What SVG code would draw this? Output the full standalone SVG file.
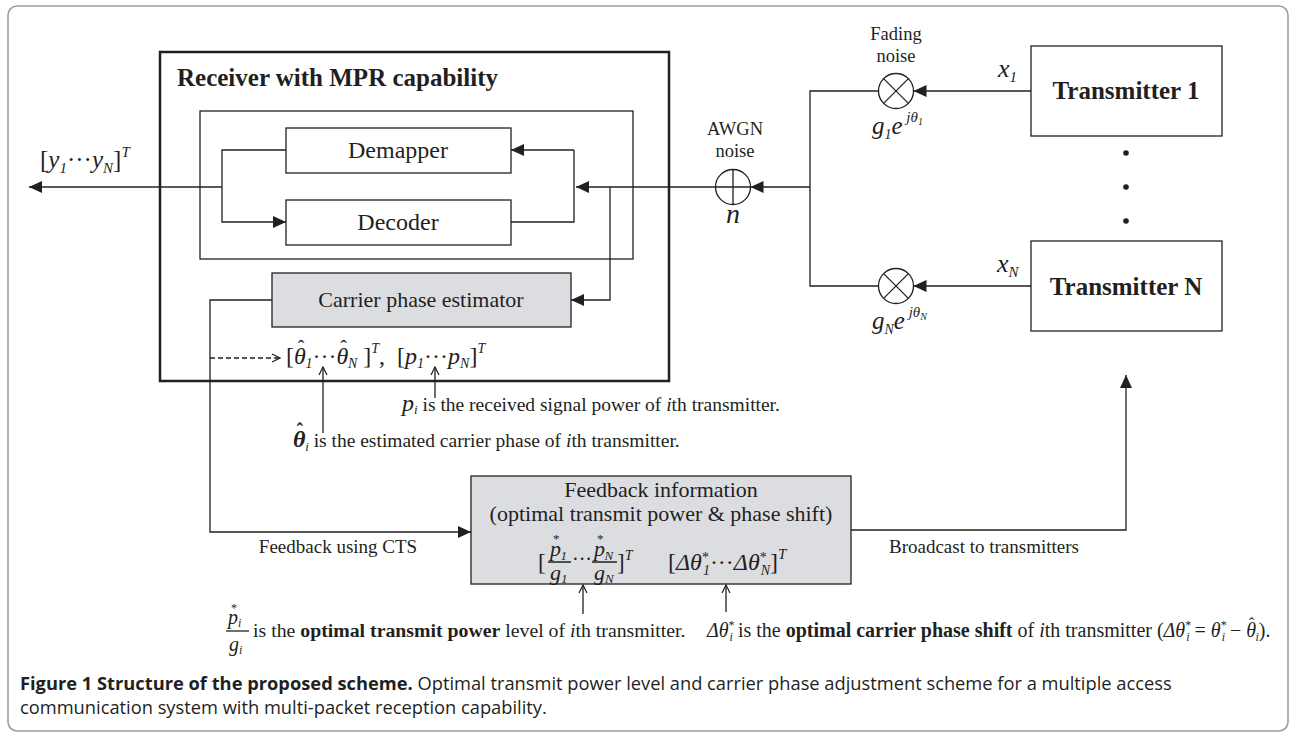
<svg xmlns="http://www.w3.org/2000/svg" width="1294" height="737" viewBox="0 0 1294 737">
<style>
.t{font-family:"Liberation Serif","Times New Roman",serif;fill:#231f20}
.i{font-style:italic}
.n{font-style:normal}
.b{font-weight:bold}
.ln{fill:none;stroke:#231f20;stroke-width:1.3}
.box{fill:#fff;stroke:#231f20;stroke-width:1.3}
.gbox{fill:#dcdde0;stroke:#231f20;stroke-width:1.3}
.cap{font-family:"Open Sans","Liberation Sans",sans-serif;fill:#231f20}
</style>
<defs>
<marker id="ah" markerUnits="userSpaceOnUse" markerWidth="14" markerHeight="12" refX="13" refY="6" orient="auto"><path d="M0,0 L13,6 L0,12 z" fill="#231f20"/></marker>
<marker id="oh" markerUnits="userSpaceOnUse" markerWidth="10" markerHeight="10" refX="9" refY="5" orient="auto"><path d="M1,1 L9,5 L1,9" fill="none" stroke="#231f20" stroke-width="1.2"/></marker>
</defs>
<rect x="8" y="6" width="1280" height="725" rx="9" fill="#fff" stroke="#9a9a9a" stroke-width="1.5"/>

<g id="receiver">
<rect x="160" y="52" width="509" height="329" fill="none" stroke="#231f20" stroke-width="2.5"/>
<text x="177" y="86" class="t b" font-size="25">Receiver with MPR capability</text>
</g>
<g id="inner-block"><rect x="200" y="111" width="433" height="148" class="box" fill="none"/></g>
<g id="demapper"><rect x="286" y="128" width="225" height="45" class="box"/><text x="398" y="158" class="t" font-size="24" text-anchor="middle">Demapper</text></g>
<g id="decoder"><rect x="286" y="200" width="225" height="45" class="box"/><text x="398" y="230" class="t" font-size="24" text-anchor="middle">Decoder</text></g>
<g id="estimator"><rect x="272" y="273" width="299" height="54" class="gbox"/><text x="421" y="307" class="t" font-size="22" text-anchor="middle">Carrier phase estimator</text></g>

<g id="awgn">
<circle cx="733" cy="187" r="17.5" class="box"/>
<path d="M733,169.5 V204.5 M715.5,187 H750.5" class="ln"/>
<text x="735" y="135" class="t" font-size="18.5" text-anchor="middle">AWGN</text>
<text x="735" y="157" class="t" font-size="18.5" text-anchor="middle">noise</text>
<text x="733" y="223" class="t i" font-size="28" text-anchor="middle">n</text>
</g>
<g id="fading1">
<circle cx="896" cy="91" r="17.5" class="box"/>
<path d="M883.6,78.6 L908.4,103.4 M908.4,78.6 L883.6,103.4" class="ln"/>
<text x="896" y="40" class="t" font-size="18.5" text-anchor="middle">Fading</text>
<text x="896" y="62" class="t" font-size="18.5" text-anchor="middle">noise</text>
<text x="872" y="134" class="t" font-size="25"><tspan class="i">g</tspan><tspan font-size="14" dy="5" class="i">1</tspan><tspan class="i" dy="-5">e</tspan><tspan font-size="15" dy="-12" class="i"> jθ</tspan><tspan font-size="10" dy="3" class="i">1</tspan></text>
</g>
<g id="fadingN">
<circle cx="896" cy="286" r="17.5" class="box"/>
<path d="M883.6,273.6 L908.4,298.4 M908.4,273.6 L883.6,298.4" class="ln"/>
<text x="872" y="329" class="t" font-size="25"><tspan class="i">g</tspan><tspan font-size="14" dy="5" class="i">N</tspan><tspan class="i" dy="-5">e</tspan><tspan font-size="15" dy="-12" class="i"> jθ</tspan><tspan font-size="10" dy="3" class="i">N</tspan></text>
</g>
<g id="tx1"><rect x="1031" y="46" width="191" height="90" class="box" stroke-width="2"/><text x="1126" y="99" class="t b" font-size="25" text-anchor="middle">Transmitter 1</text></g>
<g id="txN"><rect x="1031" y="241" width="191" height="90" class="box" stroke-width="2"/><text x="1126" y="295" class="t b" font-size="25" text-anchor="middle">Transmitter N</text></g>
<g id="tx-dots" fill="#231f20"><circle cx="1126" cy="153" r="2.8"/><circle cx="1126" cy="187" r="2.8"/><circle cx="1126" cy="221" r="2.8"/></g>
<g id="feedback">
<rect x="471" y="476" width="380" height="108" class="gbox"/>
<text x="661" y="497" class="t" font-size="22" text-anchor="middle">Feedback information</text>
<text x="661" y="521" class="t" font-size="22" text-anchor="middle">(optimal transmit power &amp; phase shift)</text>
<text x="538" y="570" class="t" font-size="23">[</text>
<text x="550" y="556" class="t i" font-size="22">p<tspan class="n" font-size="13" dx="-8" dy="-13">*</tspan><tspan font-size="13" dx="1" dy="17">1</tspan></text>
<path d="M548,562 H571 M592,562 H617" class="ln" stroke-width="1"/>
<text x="550" y="580" class="t i" font-size="22">g<tspan font-size="13" dy="3">1</tspan></text>
<text x="572" y="566" class="t" font-size="20">···</text>
<text x="594" y="556" class="t i" font-size="22">p<tspan class="n" font-size="13" dx="-8" dy="-13">*</tspan><tspan font-size="13" dx="1" dy="17">N</tspan></text>
<text x="594" y="580" class="t i" font-size="22">g<tspan font-size="13" dy="3">N</tspan></text>
<text x="617" y="570" class="t" font-size="23">]<tspan class="i" font-size="14" dy="-10">T</tspan></text>
<text x="668" y="570" class="t" font-size="24">[<tspan class="i">Δθ</tspan><tspan font-size="14" dy="-8">*</tspan><tspan font-size="14" dx="-6" dy="13" class="i">1</tspan><tspan dy="-5">···</tspan><tspan class="i">Δθ</tspan><tspan font-size="14" dy="-8">*</tspan><tspan font-size="14" dx="-6" dy="13" class="i">N</tspan><tspan dy="-5">]</tspan><tspan font-size="15" dy="-11" class="i">T</tspan></text>
</g>

<g id="connectors">
<path d="M222,187 H29" class="ln" marker-end="url(#ah)"/>
<path d="M286,150 H222 V222 H286" class="ln" marker-end="url(#ah)"/>
<path d="M574,150 H511" class="ln" marker-end="url(#ah)"/>
<path d="M511,222 H574 V150" class="ln"/>
<path d="M715.5,187 H576" class="ln" marker-end="url(#ah)"/>
<path d="M610,187 V300 H571" class="ln" marker-end="url(#ah)"/>
<path d="M272,300 H210 V532 H471" class="ln" marker-end="url(#ah)"/>
<path d="M210,358 H280" class="ln" stroke-dasharray="5,3" marker-end="url(#oh)"/>
<path d="M810,187 H750.5" class="ln" marker-end="url(#ah)"/>
<path d="M878.5,91 H810 V286 H878.5" class="ln"/>
<path d="M1031,91 H913.5" class="ln" marker-end="url(#ah)"/>
<path d="M1031,286 H913.5" class="ln" marker-end="url(#ah)"/>
<path d="M851,530 H1126 V375" class="ln" marker-end="url(#ah)"/>
<path d="M323,433 V367" class="ln" marker-end="url(#oh)"/>
<path d="M435,398 V367" class="ln" marker-end="url(#oh)"/>
<path d="M583,614 V585" class="ln" marker-end="url(#oh)"/>
<path d="M726,612 V585" class="ln" marker-end="url(#oh)"/>
</g>

<g id="labels">
<text x="40" y="168" class="t" font-size="25">[<tspan class="i">y</tspan><tspan font-size="15" dy="5" class="i">1</tspan><tspan dy="-5">···</tspan><tspan class="i">y</tspan><tspan font-size="15" dy="5" class="i">N</tspan><tspan dy="-5">]</tspan><tspan font-size="15" dy="-11" class="i">T</tspan></text>
<text x="998" y="77" class="t i" font-size="26">x<tspan font-size="15" dy="5">1</tspan></text>
<text x="997" y="272" class="t i" font-size="26">x<tspan font-size="15" dy="5">N</tspan></text>
<text x="286" y="364" class="t" font-size="24">[<tspan class="i">θ</tspan><tspan dx="-8" dy="-9" font-size="20">ˆ</tspan><tspan class="i" font-size="14" dx="1" dy="13">1</tspan><tspan dy="-4">···</tspan><tspan class="i">θ</tspan><tspan dx="-8" dy="-9" font-size="20">ˆ</tspan><tspan class="i" font-size="14" dx="1" dy="13">N</tspan><tspan dy="-4"> ]</tspan><tspan font-size="14" dy="-11" class="i">T</tspan><tspan dy="11">,</tspan><tspan dx="12">[</tspan><tspan class="i">p</tspan><tspan font-size="14" dy="4" class="i">1</tspan><tspan dy="-4">···</tspan><tspan class="i">p</tspan><tspan font-size="14" dy="4" class="i">N</tspan><tspan dy="-4">]</tspan><tspan font-size="14" dy="-11" class="i">T</tspan></text>
<text x="402" y="411" class="t" font-size="19.5"><tspan class="i" font-size="24">p</tspan><tspan class="i" font-size="13" dy="3">i</tspan><tspan dy="-3"> is the received signal power of </tspan><tspan class="i">i</tspan>th transmitter.</text>
<text x="293" y="447" class="t" font-size="19.5"><tspan class="i b" font-size="24">θ</tspan><tspan dx="-9" dy="-9" font-size="20" class="b">ˆ</tspan><tspan class="i" font-size="13" dx="2" dy="13">i</tspan><tspan dy="-4"> is the estimated carrier phase of </tspan><tspan class="i">i</tspan>th transmitter.</text>
<text x="338" y="553" class="t" font-size="19" text-anchor="middle">Feedback using CTS</text>
<text x="889" y="553" class="t" font-size="19">Broadcast to transmitters</text>
<text x="228" y="624" class="t i" font-size="20">p<tspan class="n" font-size="12" dx="-7" dy="-12">*</tspan><tspan font-size="12" dx="1" dy="15">i</tspan></text>
<path d="M226,631 H249" class="ln" stroke-width="1"/>
<text x="229" y="651" class="t i" font-size="20">g<tspan font-size="12" dy="3">i</tspan></text>
<text x="253" y="637" class="t" font-size="19.8">is the <tspan class="b">optimal transmit power</tspan> level of <tspan class="i">i</tspan>th transmitter.</text>
<text x="707" y="637" class="t" font-size="20"><tspan class="i">Δθ</tspan><tspan font-size="12" dy="-8">*</tspan><tspan font-size="12" dx="-5" dy="12" class="i">i</tspan><tspan dy="-4"> is the </tspan><tspan class="b">optimal carrier phase shift</tspan> of <tspan class="i">i</tspan>th transmitter (<tspan class="i">Δθ</tspan><tspan font-size="12" dy="-8">*</tspan><tspan font-size="12" dx="-5" dy="12" class="i">i</tspan><tspan dy="-4"> = </tspan><tspan class="i">θ</tspan><tspan font-size="12" dy="-8">*</tspan><tspan font-size="12" dx="-5" dy="12" class="i">i</tspan><tspan dy="-4"> − </tspan><tspan class="i">θ</tspan><tspan dx="-7" dy="-8" font-size="16">ˆ</tspan><tspan font-size="12" dx="1" dy="12" class="i">i</tspan><tspan dy="-4">).</tspan></text>
</g>

<g id="caption">
<text x="20" y="690" class="cap" font-size="18.3"><tspan font-weight="bold">Figure 1 Structure of the proposed scheme.</tspan> Optimal transmit power level and carrier phase adjustment scheme for a multiple access</text>
<text x="20" y="714" class="cap" font-size="18.3">communication system with multi-packet reception capability.</text>
</g>
</svg>
